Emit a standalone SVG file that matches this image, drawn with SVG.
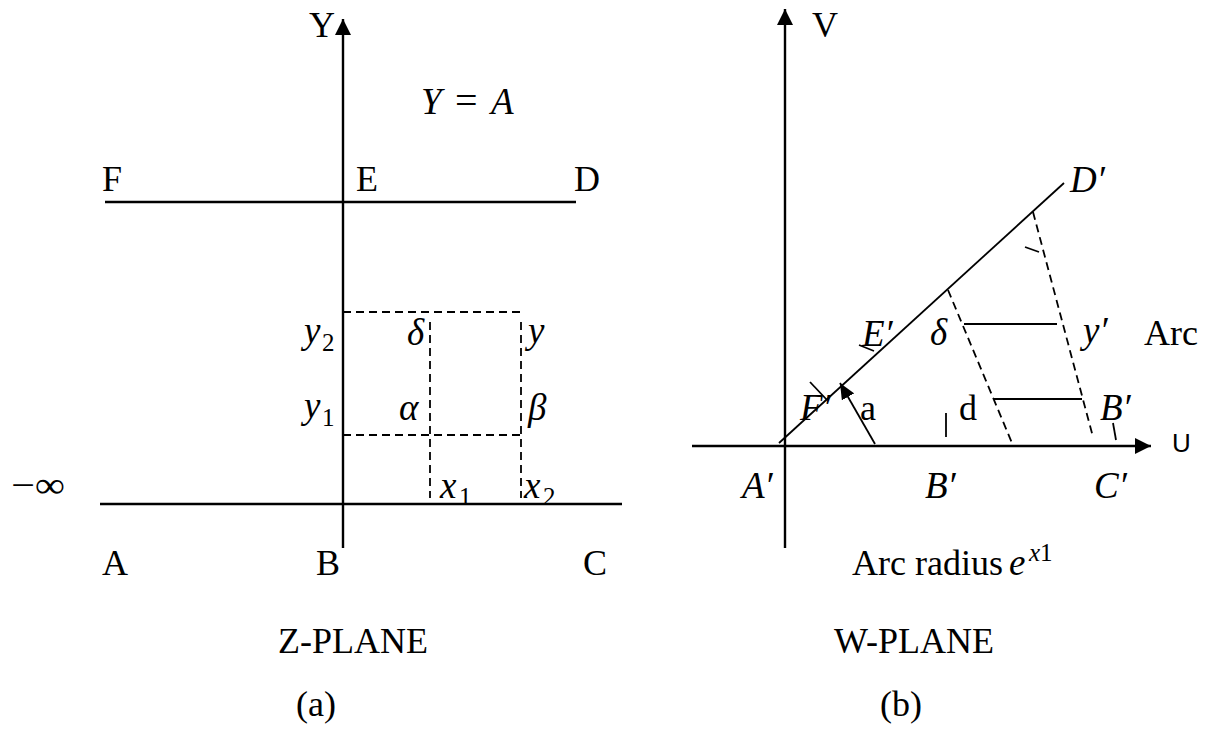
<svg xmlns="http://www.w3.org/2000/svg" width="1209" height="736" viewBox="0 0 1209 736">
<style>
.ax{stroke:#000;stroke-width:2.4;fill:none}
.ln{stroke:#000;stroke-width:1.8;fill:none}
.dash{stroke:#000;stroke-width:1.8;stroke-dasharray:8 5;fill:none}
text{font-family:"Liberation Serif","Times New Roman",serif;font-size:36px;fill:#000}
.m{font-style:italic;font-size:37px}
.sub{font-size:25px;font-style:normal}
.sans{font-family:"Liberation Sans",Arial,sans-serif;font-size:26px}
</style>
<defs>
<marker id="arr" viewBox="0 0 16 16" refX="16" refY="8" markerWidth="16" markerHeight="16" markerUnits="userSpaceOnUse" orient="auto">
<path d="M0,0 L16,8 L0,16 z" fill="#000"/>
</marker>
<marker id="arrs" viewBox="0 0 16 14" refX="16" refY="7" markerWidth="16" markerHeight="14" markerUnits="userSpaceOnUse" orient="auto">
<path d="M0,0 L16,7 L0,14 z" fill="#000"/>
</marker>
</defs>
<rect width="1209" height="736" fill="#fff"/>
<g id="connectors">
<line class="ax" x1="343" y1="548" x2="343" y2="19" marker-end="url(#arr)"/>
<line class="ax" x1="100" y1="504" x2="622" y2="504"/>
<line class="ax" x1="105" y1="202" x2="576" y2="202"/>
<line class="dash" x1="343" y1="312" x2="520" y2="312"/>
<line class="dash" x1="343" y1="435" x2="520" y2="435"/>
<line class="dash" x1="430" y1="322" x2="430" y2="498"/>
<line class="dash" x1="521" y1="322" x2="521" y2="498"/>
<line class="ax" x1="785" y1="548" x2="785" y2="9" marker-end="url(#arr)"/>
<line class="ax" x1="692" y1="446" x2="1151" y2="446" marker-end="url(#arr)"/>
<line class="ln" x1="779" y1="443" x2="1064" y2="183"/>
<line class="ln" x1="875" y1="444" x2="840" y2="383" marker-end="url(#arrs)"/>
<line class="dash" x1="948" y1="290" x2="1012" y2="443"/>
<line class="dash" x1="1033" y1="212" x2="1093" y2="437"/>
<line class="ln" x1="964" y1="324" x2="1057" y2="324"/>
<line class="ln" x1="994" y1="399" x2="1082" y2="399"/>
<line class="ln" x1="1025" y1="247" x2="1039" y2="252"/>
<line class="ln" x1="1113" y1="423" x2="1116" y2="440"/>
<line class="ln" x1="946" y1="413" x2="946" y2="437"/>
<line class="ln" x1="810" y1="382" x2="827" y2="400"/>
<line class="ln" x1="859" y1="345" x2="874" y2="351"/>
</g>
<g id="z-plane-labels">
<text id="lbl-Y" x="309" y="37">Y</text>
<text id="lbl-YA" x="421" y="114"><tspan class="m">Y</tspan><tspan x="455" font-size="40">=</tspan><tspan class="m" x="491">A</tspan></text>
<text id="lbl-F" x="102" y="191">F</text>
<text id="lbl-E" x="356" y="191">E</text>
<text id="lbl-D" x="574" y="191">D</text>
<text id="lbl-y2" x="304" y="343"><tspan class="m">y</tspan><tspan class="sub" x="322" y="351">2</tspan></text>
<text id="lbl-y1" x="304" y="418"><tspan class="m">y</tspan><tspan class="sub" x="322" y="426">1</tspan></text>
<text id="lbl-delta" class="m" x="407" y="345">δ</text>
<text id="lbl-alpha" class="m" x="399" y="420">α</text>
<text id="lbl-gamma" class="m" x="528" y="343">y</text>
<text id="lbl-beta" class="m" x="528" y="420">β</text>
<text id="lbl-x1" x="440" y="498"><tspan class="m">x</tspan><tspan class="sub" x="459" y="505">1</tspan></text>
<text id="lbl-x2" x="524" y="498"><tspan class="m">x</tspan><tspan class="sub" x="543" y="505">2</tspan></text>
<text id="lbl-minf" x="11" y="497" textLength="54" lengthAdjust="spacingAndGlyphs">−∞</text>
<text id="lbl-A" x="102" y="575">A</text>
<text id="lbl-B" x="316" y="575">B</text>
<text id="lbl-C" x="583" y="575">C</text>
<text id="lbl-zplane" x="278" y="653">Z-PLANE</text>
<text id="lbl-a-cap" x="296" y="716">(a)</text>
</g>
<g id="w-plane-labels">
<text id="lbl-V" x="812" y="37">V</text>
<text id="lbl-U" class="sans" x="1172" y="452">U</text>
<text id="lbl-Dp" class="m" x="1070" y="192">D′</text>
<text id="lbl-Ep" class="m" x="862" y="346">E′</text>
<text id="lbl-Fp" class="m" x="800" y="420">F′</text>
<text id="lbl-deltap" class="m" x="930" y="345">δ</text>
<text id="lbl-yp" class="m" x="1083" y="343">y′</text>
<text id="lbl-arc" x="1144" y="345">Arc</text>
<text id="lbl-a" x="860" y="420">a</text>
<text id="lbl-d" x="959" y="420">d</text>
<text id="lbl-Bp1" class="m" x="1100" y="420">B′</text>
<text id="lbl-Ap" class="m" x="742" y="498">A′</text>
<text id="lbl-Bp2" class="m" x="925" y="498">B′</text>
<text id="lbl-Cp" class="m" x="1094" y="498">C′</text>
<text id="lbl-radius" x="852" y="575">Arc radius</text>
<text id="lbl-e" class="m" x="1009" y="575">e</text>
<text id="lbl-x1sup" x="1029" y="561"><tspan font-style="italic" font-size="25">x</tspan><tspan font-size="25">1</tspan></text>
<text id="lbl-wplane" x="834" y="653">W-PLANE</text>
<text id="lbl-b-cap" x="880" y="716">(b)</text>
</g>
</svg>
